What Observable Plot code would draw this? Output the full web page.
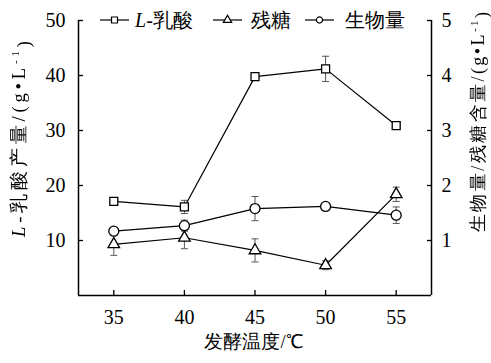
<!DOCTYPE html>
<html><head><meta charset="utf-8">
<script src="https://cdn.jsdelivr.net/npm/d3@7"></script>
<script src="https://cdn.jsdelivr.net/npm/@observablehq/plot@0.6"></script>
<style>body{margin:0;background:#fff}</style>
</head><body><div id="chart"></div>
<script>
// ---- data ----
const temps = [35, 40, 45, 50, 55];
const lactic = [17.1, 16.1, 39.8, 41.2, 30.9];      // g/L, left axis
const lacticErr = [0.5, 1.2, 0.4, 2.3, 0.3];
const sugar = [0.93, 1.05, 0.82, 0.55, 1.84];       // g/L, right axis
const sugarErr = [0.2, 0.2, 0.21, 0.08, 0.13];
const biomass = [1.17, 1.27, 1.58, 1.62, 1.46];     // g/L, right axis
const biomassErr = [0.05, 0.1, 0.22, 0.05, 0.15];
const leftTicks = [10, 20, 30, 40, 50];
const rightTicks = [1, 2, 3, 4, 5];
const xDomain = [32.5, 57.5];
const yDomain = [0, 50];
const rightFactor = 10;
const xLabel = "发酵温度/℃";
const leftLabel = "L-乳酸产量/(g•L-1)";
const rightLabel = "生物量/残糖含量/(g•L-1)";
const legendLabels = ["L-乳酸", "残糖", "生物量"];

const rows = (name, vals, errs, k) => temps.map((t, i) => ({name, t, v: vals[i] * k, e: errs[i] * k}));
const L = rows("lactic", lactic, lacticErr, 1);
const S = rows("sugar", sugar, sugarErr, rightFactor);
const B = rows("biomass", biomass, biomassErr, rightFactor);
const all = [...L, ...S, ...B];

const cap = {draw(ctx) { ctx.moveTo(-3.5, 0); ctx.lineTo(3.5, 0); }};
const font = "Liberation Serif, serif";
const errColor = "#555";

const chart = Plot.plot({
  width: 491, height: 363,
  marginLeft: 78, marginRight: 60, marginTop: 20, marginBottom: 68,
  style: {fontFamily: font, fontSize: "20px", color: "black", background: "white"},
  x: {domain: xDomain},
  y: {domain: yDomain},
  marks: [
    Plot.ruleX(all, {x: "t", y1: d => d.v - d.e, y2: d => d.v + d.e, stroke: errColor, strokeWidth: 1}),
    Plot.dot(all, {x: "t", y: d => d.v + d.e, symbol: cap, stroke: errColor, strokeWidth: 1}),
    Plot.dot(all, {x: "t", y: d => d.v - d.e, symbol: cap, stroke: errColor, strokeWidth: 1}),
    Plot.line(L, {x: "t", y: "v", stroke: "black", strokeWidth: 1.2}),
    Plot.line(S, {x: "t", y: "v", stroke: "black", strokeWidth: 1.2}),
    Plot.line(B, {x: "t", y: "v", stroke: "black", strokeWidth: 1.2}),
    Plot.dot(L, {x: "t", y: "v", symbol: "square", r: 4.5, fill: "white", stroke: "black", strokeWidth: 1.3}),
    Plot.dot(S, {x: "t", y: "v", symbol: "triangle", r: 4.3, fill: "white", stroke: "black", strokeWidth: 1.3}),
    Plot.dot(B, {x: "t", y: "v", symbol: "circle", r: 5, fill: "white", stroke: "black", strokeWidth: 1.3}),
    Plot.ruleY([yDomain[0]], {stroke: "black", strokeWidth: 1.5}),
    Plot.ruleX(xDomain, {stroke: "black", strokeWidth: 1.5}),
    Plot.axisX(temps, {tickSize: -5, tickPadding: 19, label: null, fontSize: 20, strokeWidth: 1.3, fontFamily: font}),
    Plot.axisY(leftTicks, {anchor: "left", tickSize: -5, tickPadding: 18, label: null, fontSize: 20, strokeWidth: 1.3, fontFamily: font}),
    Plot.axisY(rightTicks.map(d => d * rightFactor), {anchor: "right", tickSize: -5, tickPadding: 15, tickFormat: d => d / rightFactor, label: null, fontSize: 20, strokeWidth: 1.3, fontFamily: font}),
    Plot.text([xLabel], {frameAnchor: "bottom", textAnchor: "middle", dx: -1, dy: 52, fontSize: 18.5, text: d => d, fontFamily: font}),
    Plot.text([leftLabel], {frameAnchor: "left", textAnchor: "middle", dx: -59, dy: -19, rotate: -90, fontSize: 18.5, text: d => d, fontFamily: font}),
    Plot.text([rightLabel], {frameAnchor: "right", textAnchor: "middle", dx: 47, dy: -36, rotate: -90, fontSize: 18, text: d => d, fontFamily: font})
  ]
});
document.getElementById("chart").append(chart);

// ---- rich text: italic L and superscript -1; stretch to reference length ----
d3.select(chart).selectAll("text").each(function() {
  const t = this.textContent;
  if (t === leftLabel || t === rightLabel) {
    const sel = d3.select(this);
    const parts = t.split("L-1");
    sel.text(null);
    let pre = parts[0];
    if (pre.startsWith("L-")) {
      sel.append("tspan").attr("font-style", "italic").text("L");
      pre = pre.slice(1);
    }
    sel.append("tspan").text(pre + "L");
    sel.append("tspan").attr("dy", "-0.55em").attr("font-size", "11").text("-1");
    sel.append("tspan").attr("dy", "0.55em").text(parts[1]);
    sel.attr("textLength", t === leftLabel ? 196 : 220).attr("lengthAdjust", "spacing")
       .style("filter", "grayscale(1)");
  }
});

// ---- legend ----
const svg = d3.select(chart);
const leg = svg.append("g").attr("font-family", font).attr("font-size", 20).attr("text-anchor", "start");
const legItems = [
  {x: 100, sym: d3.symbolSquare, size: 36, label: legendLabels[0], tx: 135},
  {x: 213, sym: d3.symbolTriangle, size: 30, label: legendLabels[1], tx: 251},
  {x: 305, sym: d3.symbolCircle, size: 30, label: legendLabels[2], tx: 345}
];
const ly = 20;
legItems.forEach(it => {
  leg.append("line").attr("x1", it.x).attr("x2", it.x + 29).attr("y1", ly).attr("y2", ly).attr("stroke", "black").attr("stroke-width", 1.2);
  leg.append("path").attr("d", d3.symbol(it.sym, it.size)()).attr("transform", `translate(${it.x + 14.5},${ly})`).attr("fill", "white").attr("stroke", "black").attr("stroke-width", 1.2);
  const tx = leg.append("text").attr("x", it.tx).attr("y", ly).attr("dy", "0.35em");
  if (it.label.startsWith("L-")) {
    tx.append("tspan").attr("font-style", "italic").text("L");
    tx.append("tspan").text(it.label.slice(1));
  } else tx.text(it.label);
});
</script></body></html>
